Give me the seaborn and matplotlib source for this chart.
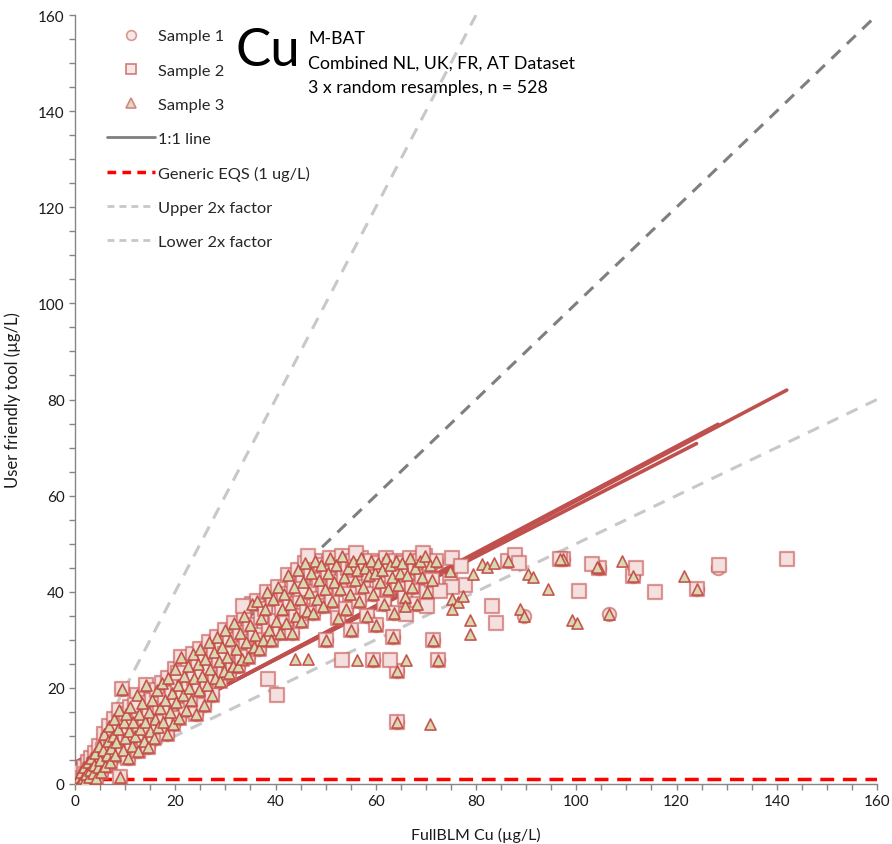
import numpy as np
import pandas as pd
import matplotlib
matplotlib.use("Agg")
import matplotlib.pyplot as plt
from matplotlib.lines import Line2D
from matplotlib.ticker import MultipleLocator
import seaborn as sns

# points shared by all three resamples (x = FullBLM Cu, y = user friendly tool)
core_x = [0.5, 0.8, 1.0, 1.2, 1.5, 1.8, 2.0, 2.2, 2.5, 2.8, 3.0, 3.2, 3.5, 3.8, 4.0, 4.2, 4.5, 4.8, 5.0, 5.2,
          5.5, 5.8, 6.0, 6.3, 6.5, 6.8, 7.0, 7.2, 7.5, 7.8, 8.0, 8.2, 8.5, 8.8, 9.0, 9.3, 9.5, 9.7, 10.0, 10.2,
          10.5, 10.8, 11.0, 11.3, 11.6, 12.0, 12.3, 12.5, 12.8, 13.0, 13.4, 13.7, 14.0, 14.2, 14.5, 14.8, 15.0,
          15.4, 15.7, 16.0, 16.3, 16.6, 17.0, 17.3, 17.6, 18.0, 18.3, 18.6, 19.0, 19.3, 19.6, 20.0, 20.2,
          20.5, 20.8, 21.2, 21.5, 21.8, 22.2, 22.5, 22.8, 23.2, 23.5, 23.8, 24.2, 24.5, 24.8, 25.0,
          25.4, 25.7, 26.0, 26.4, 26.7, 27.0, 27.4, 27.7, 28.0, 28.4, 28.7, 29.0, 29.4, 29.7, 30.0,
          30.4, 30.7, 31.0, 31.5, 31.8, 32.2, 32.6, 33.0, 33.4, 33.8, 34.2, 34.6, 35.0, 35.3,
          35.7, 36.0, 36.4, 36.8, 37.2, 37.6, 38.0, 38.4, 38.8, 39.2, 39.6, 40.0,
          40.5, 40.8, 41.2, 41.6, 42.0, 42.4, 42.8, 43.2, 43.6, 44.0, 44.4, 44.8, 45.0,
          45.4, 45.8, 46.2, 46.6, 47.0, 47.4, 47.8, 48.2, 48.6, 49.0, 49.4, 49.8, 50.0,
          50.4, 50.8, 51.2, 51.6, 52.0, 52.4, 52.8, 53.2, 53.6, 54.0, 54.4, 54.8, 55.0,
          55.4, 55.8, 56.2, 56.6, 57.0, 57.4, 57.8, 58.2, 58.6, 59.0, 59.4, 59.8, 60.0,
          60.4, 60.8, 61.2, 61.6, 62.0, 62.4, 62.8, 63.2, 63.6, 64.0, 64.4, 64.8,
          65.3, 65.8, 66.3, 66.8, 67.3, 67.8, 68.3, 68.8, 69.3, 69.8, 70.3, 70.8, 71.3, 72.0,
          97.3, 104.5, 111.3, 124.0, 86.4, 96.8, 71.5, 72.5, 63.4, 59.5, 64.2, 64.2]
core_y = [0.8, 1.5, 0.5, 2.5, 1.2, 3.5, 0.9, 2.0, 4.5, 1.5, 3.0, 5.5, 2.2, 4.0, 6.5, 1.3, 3.5, 8.0, 5.0, 2.5,
          7.0, 10.5, 3.8, 6.0, 9.0, 12.0, 4.5, 7.5, 10.0, 13.5, 6.0, 8.8, 11.5, 15.5, 1.4, 19.8, 7.0, 12.8, 9.5, 14.5,
          5.5, 11.0, 16.0, 8.0, 13.0, 10.0, 18.5, 6.8, 14.5, 11.5, 16.8, 9.0, 12.8, 20.5, 7.8, 15.0, 11.0,
          17.5, 9.5, 13.5, 19.5, 11.8, 15.8, 21.0, 13.0, 17.5, 10.5, 22.0, 15.0, 19.0, 12.5, 24.0, 17.0,
          20.5, 13.8, 26.5, 18.5, 22.5, 15.5, 24.5, 20.0, 17.5, 27.0, 22.0, 14.5, 25.0, 19.5, 28.0,
          22.5, 16.5, 26.0, 20.5, 29.5, 24.0, 18.5, 27.5, 22.0, 30.5, 25.5, 21.5, 28.5, 23.5, 32.0,
          26.5, 23.0, 30.0, 24.5, 33.5, 28.0, 24.5, 31.5, 26.0, 35.0, 29.5, 26.5, 33.0, 37.5,
          28.5, 31.0, 38.0, 28.0, 34.5, 30.0, 36.5, 40.0, 32.0, 30.0, 38.5, 34.0,
          41.0, 31.5, 36.5, 39.5, 33.5, 43.5, 37.5, 31.5, 41.0, 35.0, 44.5, 38.5, 34.0,
          42.0, 46.0, 36.0, 40.0, 44.0, 35.5, 46.5, 38.5, 42.5, 45.5, 37.0, 40.5, 30.0,
          44.0, 47.0, 38.0, 42.0, 45.5, 34.5, 40.5, 47.5, 43.0, 36.5, 45.0, 39.5, 32.0,
          46.5, 42.5, 44.5, 38.0, 47.0, 41.0, 45.0, 35.0, 43.5, 46.5, 39.5, 44.0, 33.0,
          46.0, 42.0, 44.5, 37.5, 47.0, 40.5, 45.5, 43.0, 35.5, 46.5, 41.5, 44.0,
          46.0, 39.0, 43.5, 47.0, 41.0, 45.0, 37.5, 46.5, 43.0, 47.5, 40.0, 45.5, 42.5, 46.5,
          46.8, 44.9, 43.3, 40.6, 46.5, 46.8, 30.0, 25.9, 30.5, 25.9, 23.6, 13.0]

# points found only in one resample
s1_extra_x = [106.6, 89.5, 128.3]
s1_extra_y = [35.4, 35.0, 45.0]
s2_extra_x = [103.2, 111.9, 100.5, 115.7, 128.4, 142.0, 75.3, 77.1, 87.8, 88.6, 74.8, 77.8, 75.2, 72.8,
              83.1, 84.0, 70.2, 66.0, 53.2, 62.8, 38.5, 40.3, 20.6, 33.5, 46.5, 56.0, 69.5, 45.0, 30.0, 12.0]
s2_extra_y = [45.8, 44.9, 40.2, 40.0, 45.6, 46.8, 47.0, 45.4, 47.6, 46.0, 42.3, 41.5, 40.9, 40.2,
              37.1, 33.4, 37.1, 35.4, 25.9, 25.9, 21.8, 18.5, 23.0, 37.0, 47.5, 48.0, 48.0, 40.5, 27.0, 16.5]
s3_extra_x = [104.1, 109.1, 121.5, 99.1, 100.2, 74.8, 79.5, 81.1, 82.1, 83.6, 90.3, 91.4, 94.4, 75.2,
              76.5, 77.5, 75.3, 88.8, 78.9, 78.9, 70.8, 56.3, 66.0, 65.8, 106.6, 89.5, 43.9, 46.5]
s3_extra_y = [45.1, 46.3, 43.3, 34.2, 33.5, 44.4, 43.7, 45.8, 45.1, 46.0, 43.7, 43.0, 40.6, 38.5,
              37.8, 39.2, 36.4, 36.4, 34.2, 31.2, 12.5, 25.9, 25.9, 37.1, 35.4, 35.0, 26.0, 26.0]

# linear trendlines per resample (slope, intercept)
fit_slope = [0.553, 0.549, 0.535]
fit_intercept = [3.9, 4.0, 4.5]

s1 = pd.DataFrame({"x": core_x + s1_extra_x, "y": core_y + s1_extra_y})
s2 = pd.DataFrame({"x": core_x + s2_extra_x, "y": core_y + s2_extra_y})
s3 = pd.DataFrame({"x": core_x + s3_extra_x, "y": core_y + s3_extra_y})

sns.set_theme(style="white")
plt.rcParams["font.family"] = ["Lato", "DejaVu Sans"]

red = "#c0504d"
txt = "#1a1a1a"
fig = plt.figure(figsize=(8.92, 8.45), dpi=100)
ax = fig.add_axes([75 / 892, 60 / 845, 802 / 892, 769 / 845])

# reference lines
xs = np.array([0, 160])
ax.plot(xs, xs, color="#7f7f7f", lw=2.2, ls=(0, (4, 3)), zorder=1)
ax.plot([0, 80], [0, 160], color="#c8c8c8", lw=2.2, ls=(0, (4, 3)), zorder=1)
ax.plot(xs, xs * 0.5, color="#c8c8c8", lw=2.2, ls=(0, (4, 3)), zorder=1)
ax.plot(xs, [1, 1], color="#ff0000", lw=2.5, ls=(0, (4, 2.5)), zorder=1)

# trendlines
for df, m, b in zip([s1, s2, s3], fit_slope, fit_intercept):
    tx = np.array([df["x"].min(), df["x"].max()])
    ax.plot(tx, b + m * tx, color=red, lw=2.6, zorder=2)

sns.scatterplot(data=s1, x="x", y="y", marker="o", s=95, facecolor="#f2dcdb",
                edgecolor=(0.75, 0.31, 0.30, 0.6), linewidth=1.4, ax=ax, zorder=3)
sns.scatterplot(data=s2, x="x", y="y", marker="s", s=100, facecolor="#f3e0df",
                edgecolor=(0.80, 0.38, 0.37, 0.65), linewidth=1.6, ax=ax, zorder=4)
sns.scatterplot(data=s3, x="x", y="y", marker="^", s=64, facecolor="#d8d9b2",
                edgecolor=(0.76, 0.28, 0.26, 0.9), linewidth=1.2, ax=ax, zorder=5)

ax.set_xlim(0, 160)
ax.set_ylim(0, 160)
ax.xaxis.set_major_locator(MultipleLocator(20))
ax.yaxis.set_major_locator(MultipleLocator(20))
ax.xaxis.set_minor_locator(MultipleLocator(5))
ax.yaxis.set_minor_locator(MultipleLocator(5))
ax.tick_params(which="both", direction="out", length=4, width=1, color="#868686",
               bottom=True, left=True, labelsize=11, labelcolor=txt)
for side in ["top", "right"]:
    ax.spines[side].set_visible(False)
for side in ["left", "bottom"]:
    ax.spines[side].set_color("#868686")
    ax.spines[side].set_linewidth(1)

ax.set_xlabel("FullBLM Cu (µg/L)", fontsize=11.5, labelpad=13, color=txt)
ax.set_ylabel("User friendly tool (µg/L)", fontsize=12, labelpad=12, color=txt)

handles = [
    Line2D([], [], ls="none", marker="o", ms=7, mfc="#f7e8e8", mec="#d99694", mew=1.2),
    Line2D([], [], ls="none", marker="s", ms=7, mfc="#f7e8e8", mec="#d07b79", mew=1.2),
    Line2D([], [], ls="none", marker="^", ms=7, mfc="#e6d6c0", mec="#d08884", mew=1.2),
    Line2D([], [], color="#7f7f7f", lw=2),
    Line2D([], [], color="#ff0000", lw=2.5, ls=(0, (2.5, 1.8))),
    Line2D([], [], color="#c8c8c8", lw=2, ls=(0, (2.5, 1.8))),
    Line2D([], [], color="#c8c8c8", lw=2, ls=(0, (2.5, 1.8))),
]
labels = ["Sample 1", "Sample 2", "Sample 3", "1:1 line", "Generic EQS (1 ug/L)",
          "Upper 2x factor", "Lower 2x factor"]
ax.legend(handles, labels, loc="upper left", bbox_to_anchor=(0.022, 1.001), frameon=False,
          fontsize=11.8, labelspacing=1.2, handlelength=2.9, handletextpad=0.2)

fig.text(236 / 892, 1 - 66 / 845, "Cu", fontsize=38, color="black")
fig.text(308 / 892, 1 - 44 / 845, "M-BAT", fontsize=12.8, color="black")
fig.text(308 / 892, 1 - 69 / 845, "Combined NL, UK, FR, AT Dataset", fontsize=12.8, color="black")
fig.text(308 / 892, 1 - 93 / 845, "3 x random resamples, n = 528", fontsize=12.8, color="black")

fig.savefig("out.png", dpi=100)
